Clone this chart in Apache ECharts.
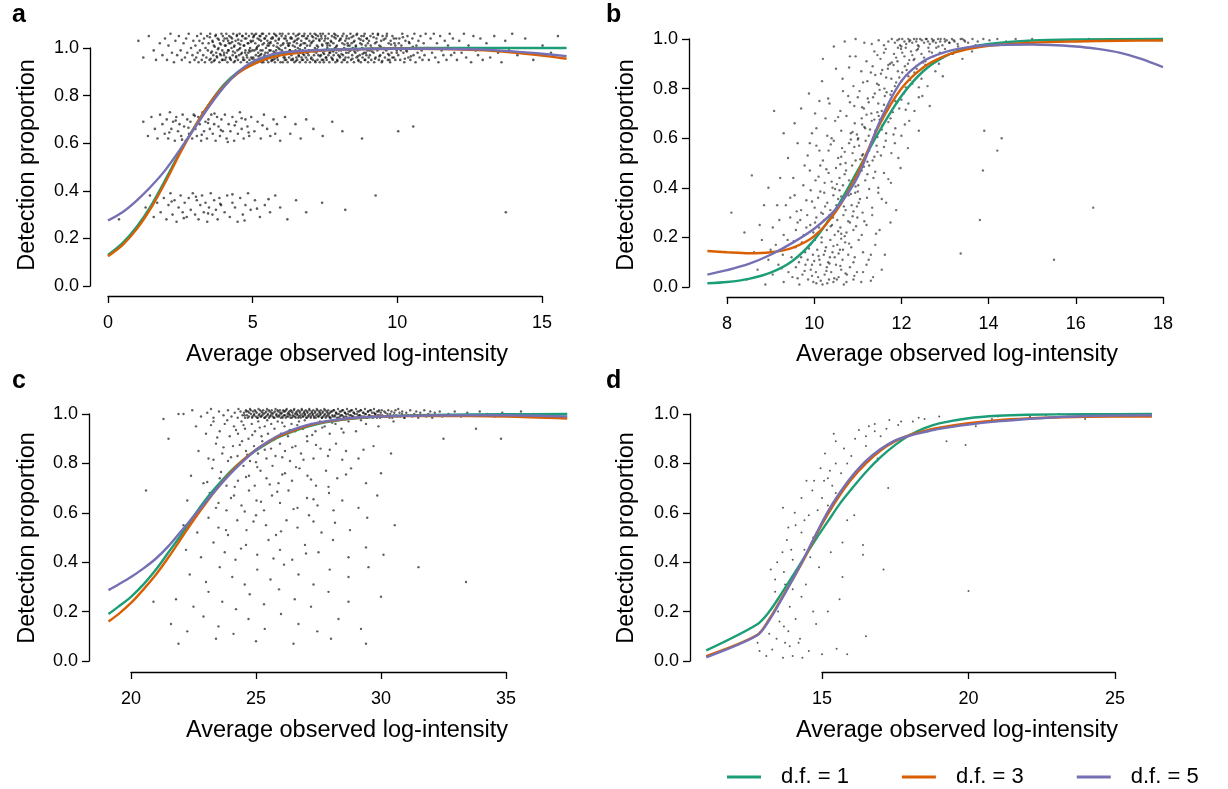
<!DOCTYPE html>
<html><head><meta charset="utf-8">
<script src="https://cdn.jsdelivr.net/npm/echarts/dist/echarts.min.js"></script>
<style>html,body{margin:0;padding:0;background:#fff}#c{width:1228px;height:789px}</style>
</head><body><div id="c"></div>
<script>
// ---------- data ----------
const seriesNames = ['d.f. = 1', 'd.f. = 3', 'd.f. = 5'];
const xTitle = 'Average observed log-intensity';
const yTitle = 'Detection proportion';
const panelLetters = ['a', 'b', 'c', 'd'];
const xTicksA = [0, 15, 5], xTicksB = [8, 18, 2], xTicksC = [20, 35, 5], xTicksD = [15, 25, 5]; // min, max, step
const yTicks = [0, 1, 0.2];

// panel a: points (x, y pairs, flat)
const pointsA = [
1.05,1.03,1.22,0.96,1.41,1.05,1.58,0.99,1.66,0.95,1.79,1.02,1.88,0.97,1.97,1.04,
2.04,0.95,2.09,1.01,2.16,1.06,2.21,0.98,2.28,0.94,2.33,1.03,2.39,0.97,2.45,1.05,2.51,0.99,2.55,0.95,2.61,1.02,2.66,0.96,2.70,1.04,2.74,0.98,2.79,1.06,2.83,0.94,2.87,1.00,2.92,0.97,2.95,1.03,2.99,0.95,
3.02,1.01,3.05,0.96,3.08,1.05,3.10,0.98,3.13,0.94,3.16,1.03,3.18,0.99,3.21,1.06,3.24,0.95,3.27,1.02,3.29,0.97,3.32,1.04,3.35,0.94,3.37,1.00,3.40,0.96,3.43,1.05,3.45,0.99,3.48,1.02,3.51,0.95,3.53,1.06,3.56,0.98,3.58,0.94,3.61,1.03,3.64,0.97,3.66,1.01,3.69,0.95,3.71,1.05,3.74,0.98,3.77,0.96,3.79,1.04,3.82,1.00,3.85,0.94,3.87,1.02,3.90,0.97,3.92,1.06,3.95,0.99,3.97,0.95,3.99,1.03,
4.01,0.97,4.03,1.04,4.05,0.95,4.07,1.01,4.09,1.06,4.11,0.98,4.13,0.94,4.15,1.03,4.17,0.99,4.19,1.05,4.21,0.96,4.23,1.02,4.25,0.95,4.27,1.00,4.29,1.04,4.31,0.97,4.33,1.06,4.35,0.94,4.37,1.01,4.39,0.98,4.41,1.03,4.43,0.96,4.45,1.05,4.47,0.99,4.49,0.95,4.51,1.02,4.53,0.97,4.55,1.06,4.57,1.00,4.59,0.94,4.61,1.03,4.63,0.98,4.65,1.05,4.67,0.96,4.69,1.01,4.71,0.95,4.73,1.04,4.75,0.99,4.77,1.06,4.79,0.97,4.81,0.94,4.83,1.02,4.85,0.98,4.87,1.05,4.89,0.95,4.91,1.00,4.93,1.03,4.95,0.96,4.97,1.06,4.99,0.99,
5.01,1.03,5.02,0.96,5.04,1.05,5.06,0.99,5.07,0.95,5.09,1.02,5.11,0.97,5.12,1.06,5.14,1.00,5.16,0.94,5.17,1.04,5.19,0.98,5.21,1.01,5.22,0.95,5.24,1.05,5.26,0.97,5.27,0.99,5.29,1.03,5.31,0.94,5.32,1.06,5.34,0.99,5.36,1.06,5.37,0.94,5.39,1.02,5.41,0.97,5.42,1.04,5.44,0.96,5.46,1.00,5.47,1.05,5.49,0.95,5.51,1.03,5.52,0.98,5.54,0.94,5.56,1.01,5.57,1.06,5.59,0.96,5.61,1.02,5.62,0.99,5.64,1.04,5.66,0.95,5.67,0.97,5.69,1.04,5.71,0.95,5.72,1.01,5.74,1.06,5.76,0.98,5.77,0.94,5.79,1.03,5.81,0.99,5.82,1.05,5.84,0.96,5.86,1.02,5.87,0.95,5.89,1.00,5.91,1.04,5.92,0.97,5.94,1.06,5.96,0.94,5.97,1.01,5.99,0.98,
6.01,0.99,6.03,1.06,6.04,0.94,6.06,1.02,6.08,0.97,6.09,1.04,6.11,0.96,6.13,1.00,6.14,1.05,6.16,0.95,6.18,1.03,6.19,0.98,6.21,0.94,6.23,1.01,6.24,1.06,6.26,0.96,6.28,1.02,6.29,0.99,6.31,1.04,6.33,0.95,6.34,0.97,6.36,1.04,6.38,0.95,6.39,1.01,6.41,1.06,6.43,0.98,6.44,0.94,6.46,1.03,6.48,0.99,6.49,1.05,6.51,0.96,6.53,1.02,6.54,0.95,6.56,1.00,6.58,1.04,6.59,0.97,6.61,1.06,6.63,0.94,6.64,1.01,6.66,0.98,6.68,1.03,6.69,0.96,6.71,1.05,6.73,0.99,6.74,0.95,6.76,1.02,6.78,0.97,6.79,1.06,6.81,1.00,6.83,0.94,6.84,1.04,6.86,0.98,6.88,1.01,6.89,0.95,6.91,1.05,6.93,0.97,6.94,0.99,6.96,1.03,6.98,0.94,6.99,1.06,
7.02,1.02,7.03,0.96,7.05,1.05,7.07,0.99,7.08,0.95,7.10,1.03,7.12,0.97,7.14,1.06,7.15,1.00,7.17,0.94,7.19,1.04,7.20,0.98,7.22,1.01,7.24,0.95,7.26,1.05,7.27,0.97,7.29,0.99,7.31,1.03,7.32,0.94,7.34,1.06,7.36,0.97,7.38,1.04,7.39,0.95,7.41,1.01,7.43,1.06,7.44,0.98,7.46,0.94,7.48,1.03,7.50,0.99,7.51,1.05,7.53,0.96,7.55,1.02,7.56,0.95,7.58,1.00,7.60,1.04,7.62,0.97,7.63,1.06,7.65,0.94,7.67,1.01,7.68,0.98,7.70,1.03,7.72,0.96,7.74,1.05,7.75,0.99,7.77,0.95,7.79,1.02,7.80,0.97,7.82,1.06,7.84,1.00,7.86,0.94,7.87,1.04,7.89,0.98,7.91,1.01,7.92,0.95,7.94,1.05,7.96,0.97,7.98,0.99,7.99,1.03,
8.02,0.96,8.04,1.04,8.06,0.99,8.08,0.94,8.10,1.02,8.12,0.97,8.14,1.06,8.16,1.00,8.18,0.95,8.20,1.03,8.23,0.98,8.25,1.05,8.27,0.94,8.29,1.01,8.31,0.96,8.33,1.04,8.35,0.99,8.38,1.06,8.40,0.95,8.42,1.02,8.44,0.97,8.46,1.00,8.48,1.05,8.50,0.94,8.52,1.03,8.55,0.98,8.57,1.01,8.59,0.96,8.61,1.06,8.63,0.99,8.65,0.95,8.67,1.04,8.70,0.97,8.72,1.02,8.74,0.94,8.76,1.05,8.78,1.00,8.80,0.96,8.82,1.03,8.85,0.98,8.87,1.06,8.89,0.95,8.91,1.01,8.93,0.97,8.95,1.04,8.97,0.99,8.99,0.94,
9.02,1.03,9.05,0.97,9.07,1.05,9.10,0.95,9.12,1.00,9.15,1.06,9.18,0.98,9.20,0.94,9.23,1.02,9.25,0.96,9.28,1.04,9.31,0.99,9.33,1.06,9.36,0.95,9.38,1.01,9.41,0.97,9.44,1.03,9.46,0.94,9.49,1.05,9.51,0.98,9.54,1.00,9.57,0.96,9.59,1.04,9.62,0.99,9.64,1.06,9.67,0.95,9.70,1.02,9.72,0.97,9.75,0.94,9.77,1.03,9.80,0.98,9.83,1.05,9.85,1.00,9.88,0.96,9.90,1.02,9.93,0.95,9.96,1.04,9.98,0.99,
10.03,0.97,10.07,1.04,10.10,0.95,10.14,1.01,10.17,1.06,10.21,0.98,10.24,0.94,10.28,1.03,10.31,0.99,10.35,1.05,10.38,0.96,10.42,1.02,10.45,0.95,10.49,1.00,10.52,1.04,10.56,0.97,10.59,1.06,10.63,0.94,10.66,1.01,10.70,0.98,10.73,1.03,10.77,0.96,10.80,1.05,10.84,0.99,10.87,0.95,10.91,1.02,10.94,0.97,10.98,1.06,
11.04,1.00,11.09,0.95,11.15,1.04,11.20,0.98,11.26,1.06,11.31,0.96,11.37,1.02,11.42,0.94,11.48,1.05,11.53,0.99,11.59,0.97,11.64,1.03,11.70,0.95,11.75,1.01,11.81,1.06,11.86,0.97,11.92,1.04,11.97,0.98,
12.06,0.95,12.14,1.03,12.22,0.98,12.30,1.06,12.38,0.96,12.46,1.01,12.55,0.94,12.63,1.05,12.71,0.99,12.79,0.97,12.87,1.04,12.95,0.95,
13.08,1.02,13.21,0.96,13.35,1.05,13.48,0.98,13.60,0.94,13.73,1.03,13.86,0.99,13.97,1.06,
14.15,0.97,14.42,1.04,14.70,0.95,15.02,1.01,15.31,0.98,15.55,1.05,
3.52,1.045,3.55,0.955,3.59,0.985,3.62,1.025,3.66,0.945,3.69,1.005,3.73,1.055,3.76,0.965,3.80,0.995,3.83,1.035,
3.87,0.975,3.90,1.015,3.94,0.95,3.97,1.05,4.01,0.98,4.04,1.01,4.08,0.96,4.11,1.04,4.15,0.99,4.18,1.02,
4.22,0.955,4.25,1.045,4.29,1.025,4.32,0.985,4.36,1.005,4.39,0.945,4.43,0.965,4.46,1.055,4.50,1.035,4.53,0.995,
4.57,1.015,4.60,0.975,4.64,1.05,4.67,0.95,4.71,1.01,4.74,0.98,4.78,1.04,4.81,0.96,4.85,1.02,4.88,0.99,
4.92,0.985,4.95,1.025,4.99,0.955,5.02,1.045,5.06,1.055,5.09,0.945,5.13,0.995,5.16,1.005,5.20,0.965,5.23,1.035,
5.27,1.05,5.30,0.975,5.34,1.015,5.37,0.95,5.41,1.04,5.44,0.98,5.48,0.96,5.51,1.01,5.55,1.02,5.58,0.99,
5.62,1.025,5.65,0.945,5.69,1.045,5.72,0.985,5.76,0.955,5.79,1.055,5.83,1.005,5.86,0.965,5.90,1.035,5.93,0.995,
5.97,0.975,6.00,1.05,6.04,1.015,6.07,0.96,6.11,0.95,6.14,1.04,6.18,0.98,6.21,1.02,6.25,1.01,6.28,0.99,
6.32,1.045,6.35,0.985,6.39,0.955,6.42,1.025,6.46,1.005,6.49,0.945,6.53,1.035,6.56,1.055,6.60,0.965,6.63,0.995,
6.67,1.015,6.70,0.95,6.74,0.975,6.77,1.05,6.81,1.02,6.84,0.96,6.88,1.04,6.91,0.98,6.95,0.99,6.98,1.01,
7.02,0.955,7.05,1.025,7.09,1.045,7.12,0.985,7.16,0.945,7.19,1.055,7.23,0.995,7.26,1.005,7.30,1.035,7.33,0.965,
7.37,1.05,7.40,1.015,7.44,0.95,7.47,0.975,7.51,1.04,7.54,0.96,7.58,1.01,7.61,1.02,7.65,0.98,7.68,0.99,
7.72,1.025,7.75,0.955,7.79,0.985,7.82,1.045,7.86,1.055,7.89,1.005,7.93,0.945,7.96,0.995,8.00,0.965,8.03,1.035,
8.07,0.975,8.10,1.05,8.14,0.95,8.17,1.015,8.21,0.96,8.24,1.04,8.28,1.02,8.31,0.98,8.35,1.01,8.38,0.99,
8.42,1.045,8.45,0.955,8.49,1.025,8.52,0.985,8.56,1.005,8.59,1.055,8.63,0.965,8.66,0.945,8.70,0.995,8.73,1.035,
8.77,1.015,8.80,0.975,8.84,1.05,8.87,0.95,8.91,0.98,8.94,1.04,8.98,1.02,9.01,0.96,9.05,0.99,9.08,1.01,
9.13,0.985,9.18,1.045,9.23,0.955,9.28,1.025,9.33,1.055,9.38,0.965,9.43,1.005,9.48,0.945,9.53,1.035,9.58,0.995,
9.63,1.05,9.68,0.975,9.73,0.95,9.78,1.015,9.83,0.96,9.88,1.04,9.93,1.01,9.98,0.98,10.05,1.02,10.12,0.99,
10.19,1.045,10.26,0.955,10.33,0.985,10.40,1.025,10.47,0.965,10.54,1.005,
1.22,0.69,1.38,0.63,1.50,0.71,1.62,0.66,1.71,0.62,1.80,0.72,1.88,0.68,1.96,0.64,
2.03,0.70,2.08,0.62,2.14,0.73,2.19,0.66,2.25,0.69,2.31,0.61,2.36,0.71,2.42,0.65,2.47,0.68,2.53,0.63,2.58,0.72,2.63,0.67,2.69,0.61,2.74,0.70,2.80,0.64,2.85,0.69,2.91,0.62,2.96,0.72,
3.02,0.66,3.07,0.63,3.12,0.71,3.17,0.68,3.22,0.61,3.27,0.73,3.32,0.65,3.37,0.69,3.42,0.62,3.47,0.70,3.52,0.66,3.57,0.72,3.62,0.64,3.67,0.68,3.72,0.61,3.77,0.71,3.82,0.67,3.87,0.63,3.92,0.70,3.97,0.65,
4.04,0.72,4.10,0.62,4.17,0.68,4.23,0.65,4.30,0.71,4.36,0.61,4.43,0.69,4.49,0.64,4.56,0.73,4.62,0.66,4.69,0.62,4.75,0.70,4.82,0.67,4.88,0.63,4.95,0.71,
5.06,0.65,5.17,0.69,5.28,0.62,5.39,0.72,5.50,0.66,5.61,0.63,5.72,0.70,5.84,0.68,5.95,0.61,
6.12,0.71,6.30,0.64,6.48,0.68,6.66,0.62,6.85,0.70,7.10,0.66,7.42,0.63,7.75,0.69,8.10,0.65,8.78,0.62,10.03,0.65,10.55,0.67,
2.12,0.645,2.34,0.695,2.56,0.615,2.78,0.665,3.00,0.715,3.24,0.635,3.46,0.685,3.68,0.725,3.90,0.655,4.14,0.605,4.38,0.675,4.62,0.705,4.86,0.645,5.34,0.675,5.78,0.64,
0.38,0.28,1.30,0.33,1.45,0.38,1.58,0.29,1.70,0.35,1.82,0.31,1.93,0.37,
2.02,0.28,2.09,0.34,2.16,0.39,2.23,0.30,2.30,0.36,2.37,0.27,2.44,0.33,2.51,0.38,2.58,0.31,2.65,0.35,2.72,0.29,2.79,0.37,2.86,0.32,2.93,0.39,
3.01,0.30,3.07,0.36,3.13,0.28,3.19,0.34,3.25,0.38,3.31,0.31,3.37,0.35,3.43,0.27,3.49,0.33,3.55,0.39,3.61,0.30,3.67,0.36,3.73,0.32,3.79,0.28,3.85,0.37,3.91,0.34,
4.03,0.31,4.12,0.38,4.21,0.29,4.30,0.35,4.39,0.33,4.48,0.27,4.57,0.37,4.66,0.30,4.75,0.34,4.84,0.39,4.93,0.32,
5.08,0.36,5.25,0.29,5.42,0.34,5.60,0.31,5.78,0.38,5.95,0.33,6.20,0.28,6.50,0.36,6.85,0.31,7.40,0.35,8.20,0.32,9.25,0.38,13.75,0.31,
2.20,0.355,2.62,0.285,3.04,0.375,3.46,0.305,3.88,0.345,4.30,0.385,4.72,0.275,5.15,0.325,5.55,0.365
];
const curveA1 = [[0,0.13],[0.5,0.18],[1,0.25],[1.5,0.34],[2,0.45],[2.5,0.565],[3,0.67],[3.5,0.765],[4,0.845],[4.5,0.9],[5,0.935],[5.5,0.958],[6,0.973],[7,0.988],[8,0.995],[10,0.999],[12,1.0],[15.85,1.0]];
const curveA3 = [[0,0.125],[0.5,0.172],[1,0.24],[1.5,0.33],[2,0.44],[2.5,0.56],[3,0.67],[3.5,0.765],[4,0.84],[4.5,0.895],[5,0.93],[5.5,0.955],[6,0.97],[7,0.985],[8,0.993],[10,0.997],[12,0.995],[13,0.99],[14,0.981],[15,0.968],[15.85,0.955]];
const curveA5 = [[0,0.275],[0.5,0.31],[1,0.36],[1.5,0.42],[2,0.49],[2.5,0.575],[3,0.665],[3.5,0.755],[4,0.835],[4.5,0.9],[5,0.942],[5.5,0.967],[6,0.981],[7,0.99],[8,0.994],[10,0.997],[12,0.996],[13,0.993],[14,0.986],[15,0.976],[15.85,0.966]];

// panel b
const pointsB = [
8.45,0.03,8.70,0.07,8.88,0.01,9.05,0.05,9.18,0.09,9.30,0.02,9.41,0.06,9.50,0.04,9.58,0.08,9.66,0.01,9.73,0.05,9.80,0.09,9.86,0.03,9.92,0.07,9.98,0.02,10.04,0.06,10.09,0.04,10.14,0.09,10.19,0.01,10.24,0.05,10.29,0.08,10.34,0.03,10.39,0.06,10.44,0.02,10.50,0.09,10.56,0.04,10.62,0.07,10.68,0.01,10.75,0.05,10.82,0.08,10.90,0.03,10.98,0.06,11.08,0.02,11.20,0.09,11.35,0.04,11.55,0.07,9.25,0.075,10.05,0.015,10.35,0.095,9.62,0.035,
8.62,0.14,8.95,0.11,9.12,0.17,9.28,0.13,9.39,0.19,9.48,0.12,9.57,0.16,9.65,0.10,9.72,0.18,9.79,0.14,9.85,0.11,9.91,0.17,9.97,0.13,10.02,0.19,10.07,0.15,10.12,0.11,10.17,0.18,10.22,0.13,10.27,0.16,10.32,0.10,10.37,0.19,10.42,0.14,10.47,0.12,10.53,0.17,10.59,0.15,10.65,0.11,10.71,0.18,10.78,0.13,10.85,0.16,10.93,0.12,11.02,0.19,11.12,0.14,11.25,0.11,11.40,0.17,11.62,0.13,9.53,0.185,10.10,0.125,10.62,0.195,8.80,0.19,9.88,0.155,
9.05,0.24,9.30,0.21,9.45,0.28,9.58,0.23,9.68,0.27,9.76,0.21,9.84,0.29,9.91,0.25,9.98,0.22,10.05,0.28,10.11,0.24,10.17,0.20,10.23,0.27,10.29,0.23,10.35,0.29,10.41,0.25,10.47,0.21,10.53,0.27,10.60,0.24,10.67,0.29,10.74,0.22,10.82,0.26,10.90,0.23,10.99,0.28,11.09,0.21,11.20,0.25,11.33,0.29,11.50,0.23,11.75,0.26,9.20,0.27,10.20,0.295,10.70,0.205,
9.35,0.33,9.55,0.37,9.70,0.31,9.82,0.35,9.92,0.39,10.01,0.32,10.09,0.36,10.16,0.30,10.23,0.38,10.30,0.34,10.37,0.31,10.44,0.37,10.51,0.33,10.58,0.39,10.65,0.35,10.72,0.31,10.79,0.37,10.86,0.33,10.94,0.38,11.02,0.34,11.11,0.30,11.21,0.36,11.33,0.32,11.47,0.38,11.65,0.34,11.88,0.31,10.48,0.395,10.90,0.305,9.60,0.305,11.00,0.385,
9.52,0.44,9.75,0.41,9.90,0.47,10.03,0.43,10.14,0.49,10.24,0.42,10.33,0.46,10.42,0.40,10.50,0.48,10.58,0.44,10.66,0.41,10.73,0.47,10.80,0.43,10.87,0.49,10.94,0.45,11.01,0.41,11.09,0.47,11.17,0.43,11.26,0.49,11.36,0.44,11.47,0.40,11.60,0.46,11.76,0.42,11.98,0.48,10.60,0.495,10.95,0.405,8.57,0.45,13.87,0.47,
9.85,0.53,10.05,0.57,10.20,0.51,10.33,0.55,10.45,0.59,10.55,0.52,10.64,0.56,10.72,0.50,10.80,0.58,10.88,0.54,10.95,0.51,11.03,0.57,11.10,0.53,11.18,0.59,11.26,0.55,11.34,0.51,11.43,0.57,11.53,0.53,11.64,0.59,11.77,0.54,11.93,0.52,12.15,0.56,11.00,0.595,11.22,0.505,14.20,0.55,10.70,0.545,
10.05,0.64,10.30,0.61,10.48,0.67,10.62,0.63,10.74,0.69,10.84,0.62,10.93,0.66,11.01,0.60,11.09,0.68,11.17,0.64,11.25,0.61,11.32,0.67,11.40,0.63,11.48,0.69,11.56,0.65,11.65,0.62,11.75,0.68,11.86,0.64,12.00,0.61,12.18,0.67,12.40,0.63,11.20,0.695,11.45,0.605,13.90,0.63,14.30,0.60,11.10,0.655,
10.35,0.74,10.60,0.71,10.78,0.77,10.92,0.73,11.04,0.79,11.14,0.72,11.23,0.76,11.31,0.70,11.39,0.78,11.47,0.74,11.55,0.71,11.62,0.77,11.70,0.73,11.78,0.79,11.86,0.75,11.95,0.72,12.05,0.78,12.16,0.74,12.30,0.71,12.48,0.77,12.65,0.73,11.50,0.795,11.80,0.705,9.08,0.71,11.25,0.745,12.00,0.755,
10.65,0.84,10.90,0.81,11.08,0.87,11.22,0.83,11.34,0.89,11.44,0.82,11.53,0.86,11.61,0.80,11.69,0.88,11.77,0.84,11.85,0.81,11.92,0.87,12.00,0.83,12.08,0.89,12.16,0.85,12.25,0.82,12.35,0.88,12.46,0.84,12.60,0.81,12.78,0.87,12.95,0.85,11.70,0.895,12.10,0.805,11.40,0.855,12.30,0.865,11.95,0.845,10.80,0.885,12.55,0.895,
10.95,0.93,11.20,0.91,11.38,0.95,11.52,0.92,11.64,0.96,11.74,0.90,11.83,0.94,11.91,0.91,11.99,0.96,12.07,0.93,12.15,0.90,12.22,0.95,12.30,0.92,12.38,0.96,12.46,0.94,12.55,0.91,12.64,0.95,12.74,0.93,12.86,0.90,13.00,0.96,13.18,0.94,13.40,0.92,13.62,0.95,12.10,0.965,12.50,0.905,11.88,0.925,12.80,0.965,12.25,0.935,11.45,0.935,12.95,0.925,
11.32,0.98,11.48,0.995,11.60,0.975,11.70,0.99,11.78,1.0,11.85,0.985,11.91,0.995,11.97,0.975,12.02,1.0,12.07,0.99,12.11,0.98,12.16,1.0,12.20,0.995,12.25,0.985,12.29,1.0,12.34,0.99,12.38,0.975,12.43,1.0,12.47,0.995,12.52,0.985,12.56,1.0,12.61,0.99,12.65,0.98,12.70,1.0,12.74,0.995,12.79,0.985,12.84,1.0,12.89,0.99,12.94,0.975,12.99,1.0,13.04,0.995,13.10,0.985,13.16,1.0,13.22,0.99,13.29,0.98,13.36,1.0,13.44,0.995,13.53,0.985,13.63,1.0,13.75,0.99,13.88,1.0,14.02,0.995,14.20,1.0,14.40,0.99,14.62,1.0,12.00,0.97,12.40,0.97,12.85,0.97,13.30,0.97,11.95,1.0,12.58,1.0,13.00,0.99,12.18,0.99,12.72,0.99,13.20,0.995,15.00,1.0,15.60,0.995,16.30,1.0,
8.10,0.30,13.36,0.135,15.50,0.11,16.40,0.32,13.80,0.27,8.85,0.33,8.40,0.22,8.95,0.40,
9.95,0.045,10.15,0.025,10.28,0.065,10.46,0.035,10.60,0.085,10.72,0.055,9.78,0.065,10.00,0.105,10.25,0.145,10.44,0.165,10.56,0.135,10.80,0.175,10.08,0.215,10.38,0.245,10.55,0.225,10.78,0.265,10.96,0.245,10.25,0.325,10.55,0.355,10.68,0.325,10.84,0.375,11.05,0.355,10.40,0.425,10.70,0.455,10.84,0.415,11.05,0.475,11.22,0.455,10.62,0.525,10.92,0.565,11.12,0.535,11.30,0.575,11.45,0.545,10.88,0.625,11.15,0.645,11.38,0.675,11.55,0.635,11.70,0.665,11.10,0.725,11.35,0.765,11.60,0.735,11.75,0.775,11.90,0.745,11.48,0.815,11.65,0.845,11.88,0.825,12.02,0.865,12.20,0.835,11.78,0.905,12.02,0.945,12.18,0.915,12.35,0.955,12.52,0.925,12.70,0.945,
9.40,0.52,9.62,0.58,9.78,0.49,9.95,0.62,10.12,0.55,10.26,0.68,10.40,0.60,9.55,0.66,9.70,0.72,9.88,0.78,10.02,0.70,10.18,0.83,10.32,0.76,10.50,0.88,10.66,0.79,10.82,0.93,10.20,0.92,10.45,0.97,10.70,0.99,10.95,1.0,11.15,0.985,9.30,0.62,9.45,0.36,9.62,0.26,9.15,0.33,9.00,0.15,8.75,0.25,9.22,0.44,9.90,0.58,10.12,0.75,
10.30,0.015,10.52,0.03,10.74,0.02,10.92,0.045,11.12,0.06,11.30,0.025,9.70,0.12,9.95,0.09,10.36,0.12,10.66,0.15,10.90,0.10,11.30,0.13,9.82,0.24,10.02,0.26,10.43,0.28,10.62,0.215,10.88,0.285,11.15,0.265,11.42,0.215,9.95,0.345,10.14,0.385,10.62,0.365,10.98,0.325,11.26,0.395,11.55,0.355,10.10,0.445,10.28,0.475,10.52,0.415,11.14,0.485,11.40,0.465,11.70,0.435,10.38,0.575,10.84,0.595,11.06,0.515,11.38,0.525,11.60,0.565,11.85,0.58,10.55,0.685,10.98,0.615,11.28,0.635,11.50,0.675,11.82,0.615,12.08,0.655,10.82,0.745,11.00,0.765,11.45,0.705,11.66,0.785,12.10,0.715,12.40,0.765,11.12,0.825,11.30,0.865,11.56,0.875,11.82,0.895,12.12,0.875,12.40,0.805,11.60,0.945,11.92,0.965,12.28,0.915,12.62,0.965,12.88,0.945,13.10,0.985,13.46,0.99,13.70,0.975,12.35,1.0,12.90,1.0,13.40,1.0
];
const curveB1 = [[7.55,0.015],[8,0.02],[8.5,0.033],[9,0.058],[9.5,0.105],[10,0.19],[10.5,0.315],[11,0.47],[11.5,0.63],[12,0.77],[12.5,0.87],[13,0.93],[13.5,0.963],[14,0.98],[15,0.994],[16,0.998],[18,1.0]];
const curveB3 = [[7.55,0.145],[8,0.14],[8.5,0.136],[9,0.14],[9.5,0.158],[10,0.205],[10.5,0.305],[11,0.46],[11.5,0.655],[12,0.8],[12.5,0.885],[13,0.932],[13.5,0.958],[14,0.973],[15,0.985],[16,0.99],[17,0.993],[18,0.994]];
const curveB5 = [[7.55,0.05],[8,0.068],[8.5,0.093],[9,0.13],[9.5,0.178],[10,0.235],[10.5,0.315],[11,0.445],[11.5,0.665],[12,0.83],[12.5,0.91],[13,0.947],[13.5,0.966],[14,0.975],[15,0.978],[16,0.97],[16.5,0.96],[17,0.945],[17.5,0.92],[18,0.887]];

// panel c
const pointsC = [
22.10,1.00,22.45,1.015,22.80,0.99,23.05,1.005,23.30,0.985,23.52,1.01,23.70,0.995,23.88,1.015,24.02,0.99,24.15,1.005,24.27,0.985,24.38,1.01,24.46,0.995,23.20,1.02,24.30,1.02,
24.52,1.005,24.56,0.985,24.60,1.015,24.64,0.995,24.68,1.01,24.72,0.99,24.76,1.02,24.80,1.0,24.84,0.985,24.88,1.01,24.91,0.995,24.95,1.015,24.99,0.99,25.03,1.005,25.07,0.985,25.10,1.02,25.14,1.0,25.18,0.99,25.22,1.01,25.25,0.995,25.29,1.015,25.33,0.985,25.37,1.005,25.40,0.99,25.44,1.02,25.48,1.0,25.52,0.985,25.55,1.01,25.59,0.995,25.63,1.015,25.67,0.99,25.70,1.005,25.74,0.985,25.78,1.02,25.82,1.0,25.85,0.99,25.89,1.01,25.93,0.995,25.96,1.015,25.99,0.985,
26.03,1.005,26.06,0.99,26.09,1.015,26.13,0.995,26.16,1.01,26.19,0.985,26.23,1.02,26.26,1.0,26.29,0.99,26.33,1.01,26.36,0.995,26.39,1.015,26.43,0.985,26.46,1.005,26.49,0.99,26.53,1.02,26.56,1.0,26.59,0.985,26.63,1.01,26.66,0.995,26.69,1.015,26.73,0.99,26.76,1.005,26.79,0.985,26.83,1.02,26.86,1.0,26.89,0.99,26.93,1.01,26.96,0.995,26.99,1.015,27.03,0.985,27.06,1.005,27.09,0.99,27.13,1.02,27.16,1.0,27.19,0.985,27.23,1.01,27.26,0.995,27.29,1.015,27.33,0.99,27.36,1.005,27.39,0.985,27.43,1.02,27.46,1.0,27.49,0.99,27.53,1.01,27.56,0.995,27.59,1.015,27.63,0.985,27.66,1.005,27.69,0.99,27.73,1.02,27.76,1.0,27.79,0.985,27.83,1.01,27.86,0.995,27.89,1.015,27.93,0.99,27.96,1.005,27.99,0.985,
28.04,1.01,28.08,0.99,28.12,1.015,28.16,0.995,28.20,1.005,28.24,0.985,28.28,1.02,28.32,1.0,28.36,0.99,28.40,1.01,28.44,0.995,28.48,1.015,28.52,0.985,28.56,1.005,28.60,0.99,28.64,1.02,28.68,1.0,28.72,0.985,28.76,1.01,28.80,0.995,28.84,1.015,28.88,0.99,28.92,1.005,28.96,0.985,29.00,1.02,29.04,1.0,29.08,0.99,29.12,1.01,29.16,0.995,29.20,1.015,29.24,0.985,29.28,1.005,29.32,0.99,29.36,1.02,29.40,1.0,29.44,0.985,29.48,1.01,29.52,0.995,29.56,1.015,29.60,0.99,29.64,1.005,29.68,0.985,29.72,1.02,29.76,1.0,29.80,0.99,29.84,1.01,29.88,0.995,29.92,1.015,29.96,0.985,29.99,1.005,
30.05,0.995,30.13,1.01,30.21,0.99,30.29,1.015,30.37,1.0,30.45,0.985,30.53,1.005,30.61,0.995,30.69,1.02,30.77,0.99,30.85,1.01,30.93,0.985,31.01,1.005,31.09,0.995,31.17,1.015,31.25,0.99,31.33,1.0,31.41,1.01,31.49,0.985,31.57,1.005,31.65,0.995,31.73,1.015,31.81,0.99,31.89,1.0,31.97,1.01,32.05,0.985,32.15,1.005,32.25,0.995,32.35,1.01,32.45,0.99,
32.70,1.0,32.95,1.01,33.20,0.99,33.45,1.005,33.70,0.995,33.95,1.01,34.25,1.0,34.55,0.99,34.85,1.005,35.20,0.995,35.60,1.01,36.10,1.0,
24.54,0.995,24.61,1.01,24.67,0.985,24.73,1.005,24.79,1.015,24.86,0.99,24.93,1.0,24.99,1.01,25.05,0.985,25.11,0.995,
25.16,1.015,25.21,0.99,25.26,1.005,25.31,1.0,25.36,0.985,25.41,1.01,25.46,0.995,25.51,1.015,25.56,0.99,25.61,1.005,
25.66,1.0,25.71,0.985,25.76,1.01,25.81,0.995,25.86,1.015,25.91,0.99,25.96,1.005,26.01,1.0,26.06,0.985,26.11,1.01,
26.15,0.995,26.20,1.015,26.24,0.99,26.29,1.005,26.33,1.0,26.38,0.985,26.42,1.01,26.47,0.995,26.51,1.015,26.56,0.99,
26.60,1.005,26.65,1.0,26.69,0.985,26.74,1.01,26.78,0.995,26.83,1.015,26.87,0.99,26.92,1.005,26.96,1.0,27.01,0.985,
27.05,1.01,27.10,0.995,27.14,1.015,27.19,0.99,27.23,1.005,27.28,1.0,27.32,0.985,27.37,1.01,27.41,0.995,27.46,1.015,
27.50,0.99,27.55,1.005,27.59,1.0,27.64,0.985,27.68,1.01,27.73,0.995,27.77,1.015,27.82,0.99,27.86,1.005,27.91,1.0,
27.95,0.985,28.00,1.01,28.05,0.995,28.10,1.015,28.15,0.99,28.20,1.005,28.25,1.0,28.30,0.985,28.35,1.01,28.40,0.995,
28.45,1.015,28.50,0.99,28.55,1.005,28.60,1.0,28.65,0.985,28.70,1.01,28.75,0.995,28.80,1.015,28.85,0.99,28.90,1.005,
28.95,1.0,29.00,0.985,29.06,1.01,29.12,0.995,29.18,1.015,29.24,0.99,29.30,1.005,29.36,1.0,29.42,0.985,29.48,1.01,
29.54,0.995,29.60,1.015,29.66,0.99,29.72,1.005,29.78,1.0,29.84,0.985,29.90,1.01,29.96,0.995,30.03,1.015,30.10,0.99,
30.18,1.005,30.26,1.0,30.34,0.985,30.42,1.01,30.50,0.995,30.58,1.015,30.66,0.99,30.74,1.005,30.84,1.0,30.94,0.985,
22.60,0.95,23.00,0.92,23.30,0.97,23.55,0.93,23.75,0.96,23.95,0.91,24.12,0.95,24.28,0.92,24.42,0.97,24.56,0.94,24.70,0.90,24.83,0.96,24.96,0.93,25.09,0.97,25.22,0.91,25.35,0.95,25.48,0.92,25.61,0.96,25.74,0.94,25.87,0.97,26.00,0.92,26.14,0.95,26.28,0.91,26.42,0.96,26.57,0.93,26.72,0.97,26.88,0.94,27.04,0.91,27.20,0.96,27.38,0.93,27.56,0.97,27.75,0.95,27.95,0.92,28.18,0.96,28.42,0.94,28.70,0.97,29.00,0.93,29.40,0.96,29.90,0.95,30.50,0.97,
22.70,0.85,23.10,0.82,23.40,0.88,23.65,0.84,23.88,0.81,24.08,0.87,24.26,0.83,24.44,0.89,24.60,0.85,24.76,0.81,24.92,0.87,25.08,0.84,25.25,0.89,25.42,0.82,25.60,0.86,25.78,0.83,25.96,0.88,26.16,0.85,26.36,0.81,26.58,0.87,26.80,0.84,27.05,0.89,27.30,0.82,27.58,0.86,27.88,0.83,28.20,0.88,28.60,0.85,29.10,0.82,29.70,0.87,30.40,0.84,
22.40,0.75,22.90,0.72,23.25,0.78,23.55,0.74,23.82,0.71,24.05,0.77,24.28,0.73,24.50,0.79,24.72,0.75,24.95,0.71,25.18,0.77,25.42,0.74,25.66,0.79,25.90,0.72,26.16,0.76,26.44,0.73,26.74,0.78,27.06,0.75,27.40,0.71,27.80,0.77,28.25,0.74,28.80,0.78,29.40,0.72,30.00,0.76,
22.25,0.65,22.75,0.62,23.15,0.68,23.50,0.64,23.82,0.61,24.12,0.67,24.42,0.63,24.72,0.69,25.02,0.65,25.32,0.61,25.64,0.67,25.96,0.64,26.30,0.69,26.66,0.62,27.04,0.66,27.46,0.63,27.92,0.68,28.45,0.65,29.10,0.62,29.85,0.67,
22.10,0.55,22.65,0.52,23.10,0.58,23.50,0.54,23.88,0.51,24.25,0.57,24.62,0.53,25.00,0.59,25.40,0.55,25.80,0.51,26.22,0.57,26.66,0.54,27.12,0.59,27.62,0.52,28.16,0.56,28.76,0.53,29.45,0.58,30.55,0.55,
22.20,0.45,22.80,0.42,23.30,0.48,23.75,0.44,24.18,0.41,24.60,0.47,25.05,0.43,25.50,0.49,25.96,0.45,26.45,0.41,26.96,0.47,27.50,0.44,28.08,0.49,28.70,0.42,29.40,0.46,30.10,0.43,
22.35,0.35,23.00,0.32,23.55,0.38,24.05,0.34,24.55,0.31,25.05,0.37,25.58,0.33,26.12,0.39,26.70,0.35,27.30,0.31,27.95,0.37,28.70,0.34,29.50,0.38,31.50,0.38,
21.80,0.25,22.50,0.22,23.10,0.28,23.65,0.24,24.20,0.21,24.75,0.27,25.32,0.23,25.92,0.29,26.55,0.25,27.20,0.22,27.90,0.28,28.70,0.24,30.00,0.26,
21.60,0.15,22.25,0.12,22.90,0.18,23.50,0.14,24.10,0.11,24.70,0.17,25.35,0.13,26.00,0.19,26.70,0.15,27.45,0.12,28.30,0.17,29.20,0.13,
21.90,0.07,23.40,0.09,25.00,0.08,26.50,0.07,28.00,0.09,29.40,0.07,
20.60,0.69,21.30,0.98,21.90,1.0,21.50,0.90,33.80,0.94,32.50,0.90,33.40,0.32,34.80,0.90,20.90,0.24,
23.20,0.955,23.45,0.905,23.85,0.975,24.20,0.935,24.50,0.955,24.85,0.915,25.15,0.945,25.45,0.975,25.80,0.905,26.05,0.965,26.35,0.935,26.65,0.955,26.95,0.975,27.25,0.915,27.65,0.945,28.05,0.965,28.50,0.925,29.20,0.975,
23.30,0.815,23.70,0.865,24.00,0.825,24.35,0.875,24.65,0.835,25.00,0.805,25.35,0.855,25.70,0.895,26.05,0.825,26.45,0.865,26.90,0.815,27.40,0.875,27.95,0.855,28.45,0.815,29.30,0.855,
23.05,0.725,23.60,0.765,24.15,0.705,24.60,0.745,25.05,0.785,25.55,0.715,26.05,0.755,26.60,0.785,27.20,0.735,27.90,0.705,28.60,0.755,
23.40,0.62,24.00,0.66,24.55,0.605,25.20,0.645,25.85,0.685,26.50,0.615,27.30,0.655,28.10,0.61,23.80,0.53,24.90,0.565,26.00,0.525,27.30,0.565,24.40,0.455,25.70,0.415,27.00,0.435
];
const curveC1 = [[19.1,0.19],[19.5,0.22],[20,0.26],[20.5,0.31],[21,0.37],[21.5,0.44],[22,0.51],[22.5,0.585],[23,0.655],[23.5,0.715],[24,0.77],[24.5,0.815],[25,0.852],[25.5,0.884],[26,0.91],[27,0.947],[28,0.97],[29,0.983],[30,0.99],[32,0.996],[35,0.999],[37.45,1.0]];
const curveC3 = [[19.1,0.16],[19.5,0.19],[20,0.235],[20.5,0.29],[21,0.35],[21.5,0.42],[22,0.495],[22.5,0.57],[23,0.64],[23.5,0.705],[24,0.765],[24.5,0.815],[25,0.855],[25.5,0.887],[26,0.913],[27,0.95],[28,0.972],[29,0.984],[30,0.99],[32,0.993],[35,0.99],[37.45,0.982]];
const curveC5 = [[19.1,0.287],[19.5,0.31],[20,0.34],[20.5,0.375],[21,0.415],[21.5,0.465],[22,0.525],[22.5,0.585],[23,0.645],[23.5,0.705],[24,0.76],[24.5,0.81],[25,0.855],[25.5,0.89],[26,0.918],[27,0.954],[28,0.974],[29,0.985],[30,0.99],[32,0.994],[35,0.995],[37.45,0.99]];

// panel d
const pointsD = [
12.80,0.074,12.87,0.04,13.30,0.047,13.67,0.013,14.00,0.02,14.33,0.013,15.00,0.027,15.86,0.027,13.74,0.074,14.20,0.074,
13.20,0.11,13.70,0.14,14.10,0.17,13.50,0.20,13.90,0.22,14.30,0.26,13.40,0.28,14.70,0.20,15.20,0.20,13.74,0.31,
13.40,0.33,13.70,0.36,13.47,0.40,14.00,0.41,14.40,0.45,13.80,0.49,14.90,0.38,15.70,0.34,16.40,0.43,15.70,0.48,14.70,0.50,
13.67,0.62,14.07,0.60,14.40,0.57,14.30,0.66,14.67,0.69,14.87,0.53,15.20,0.63,15.47,0.68,15.86,0.57,16.10,0.59,15.07,0.73,
14.47,0.73,14.73,0.73,15.20,0.74,15.47,0.80,15.27,0.77,15.86,0.80,15.47,0.89,16.13,0.90,16.50,0.87,16.90,0.82,17.26,0.70,17.10,0.37,
16.26,0.935,16.80,0.96,17.30,0.976,17.70,0.97,18.10,0.97,18.50,0.98,19.25,0.89,19.90,0.875,20.25,0.95,20.80,0.98,21.45,0.996,22.10,0.99,22.65,0.996,23.40,0.99,23.98,0.98,16.80,0.93,16.50,0.91,17.20,0.94,
20.00,0.283,16.50,0.10,16.40,0.47,
13.10,0.02,13.45,0.09,13.90,0.06,14.55,0.04,13.55,0.16,13.85,0.12,14.25,0.09,14.00,0.29,13.60,0.25,14.45,0.31,14.15,0.36,13.95,0.45,14.30,0.52,14.60,0.42,14.10,0.55,14.85,0.61,13.85,0.54,14.55,0.59,15.00,0.66,15.35,0.71,14.95,0.78,15.65,0.76,15.10,0.84,15.75,0.86,16.00,0.83,16.30,0.78,15.40,0.92,16.60,0.95,17.00,0.91,17.60,0.955,18.30,0.985,19.00,0.99,19.60,0.975,21.00,0.99,22.40,0.985,23.10,1.0,24.00,0.995,15.30,0.44,15.60,0.25,14.80,0.15,15.50,0.05,13.25,0.37,13.65,0.44
];
const curveD1 = [[11.05,0.043],[12.78,0.148],[13.2,0.2],[13.6,0.27],[14,0.345],[14.4,0.42],[14.8,0.495],[15.2,0.565],[15.6,0.635],[16,0.695],[16.5,0.765],[17,0.825],[17.5,0.875],[18,0.915],[18.5,0.943],[19,0.962],[20,0.983],[21,0.993],[22,0.997],[24,0.999],[26.26,1.0]];
const curveD3 = [[11.05,0.02],[12.78,0.105],[13.2,0.17],[13.6,0.25],[14,0.33],[14.4,0.415],[14.8,0.51],[15.2,0.595],[15.6,0.67],[16,0.735],[16.5,0.8],[17,0.852],[17.5,0.89],[18,0.915],[18.5,0.932],[19,0.945],[20,0.963],[21,0.975],[22,0.982],[23,0.986],[24,0.989],[26.26,0.99]];
const curveD5 = [[11.05,0.015],[12.78,0.103],[13.2,0.165],[13.6,0.245],[14,0.33],[14.4,0.42],[14.8,0.515],[15.2,0.605],[15.6,0.68],[16,0.745],[16.5,0.81],[17,0.858],[17.5,0.893],[18,0.913],[18.5,0.927],[19,0.94],[20,0.957],[21,0.97],[22,0.98],[23,0.987],[24,0.992],[26.26,0.995]];

// ---------- layout / style ----------
const FONT = '"Liberation Sans", Arial, Helvetica, sans-serif';
const COLORS = ['#1B9E77', '#D95F02', '#7570B3'];
const panels = [
  {pts: pointsA, curves: [curveA1, curveA3, curveA5], xt: xTicksA, dx: [-0.8, 16.6], box: {left: 108, top: 48, width: 434, height: 238}, xOff: 10, yOff: 18,
   letter: [12, 28], xtPos: [347, 355], ytPos: [28, 165], dot: 2.6, alpha: 0.8},
  {pts: pointsB, curves: [curveB1, curveB3, curveB5], xt: xTicksB, dx: [7.2, 18.4], box: {left: 727, top: 39, width: 436, height: 248}, xOff: 10, yOff: 38,
   letter: [606, 28], xtPos: [957, 355], ytPos: [627, 165], dot: 2.4, alpha: 0.7},
  {pts: pointsC, curves: [curveC1, curveC3, curveC5], xt: xTicksC, dx: [18.6, 38.2], box: {left: 131, top: 414, width: 375, height: 247}, xOff: 11, yOff: 42,
   letter: [12, 394], xtPos: [347, 731], ytPos: [28, 538], dot: 2.4, alpha: 0.78},
  {pts: pointsD, curves: [curveD1, curveD3, curveD5], xt: xTicksD, dx: [10.6, 26.8], box: {left: 822, top: 414, width: 293, height: 247}, xOff: 11, yOff: 132,
   letter: [606, 394], xtPos: [957, 731], ytPos: [627, 538], dot: 2, alpha: 0.8}
];
const DY = [-0.08, 1.12];

function pairs(a) { const r = []; for (let i = 0; i + 1 < a.length; i += 2) r.push([a[i], a[i + 1]]); return r; }

const axisLineStyle = {color: '#000', width: 1.3};
const grids = [], xAxes = [], yAxes = [], series = [], graphics = [];
panels.forEach((p, i) => {
  const b = p.box;
  // grid holding the visible (R-style, detached) axes
  grids.push({left: b.left, top: b.top, width: b.width, height: b.height});
  // grid holding the marks, wider than the axes' span
  const pxX = b.width / (p.xt[1] - p.xt[0]);
  const pxY = b.height / (yTicks[1] - yTicks[0]);
  grids.push({
    left: b.left + (p.dx[0] - p.xt[0]) * pxX, width: (p.dx[1] - p.dx[0]) * pxX,
    top: b.top + (yTicks[1] - DY[1]) * pxY, height: (DY[1] - DY[0]) * pxY
  });
  xAxes.push({
    gridIndex: 2 * i, type: 'value', min: p.xt[0], max: p.xt[1], interval: p.xt[2], offset: p.xOff,
    axisLine: {show: true, onZero: false, lineStyle: axisLineStyle},
    axisTick: {show: true, length: 7, lineStyle: axisLineStyle},
    axisLabel: {fontSize: 18, color: '#000', fontFamily: FONT, margin: 18},
    splitLine: {show: false}
  });
  yAxes.push({
    gridIndex: 2 * i, type: 'value', min: yTicks[0], max: yTicks[1], interval: yTicks[2], offset: p.yOff,
    axisLine: {show: true, onZero: false, lineStyle: axisLineStyle},
    axisTick: {show: true, length: 7, lineStyle: axisLineStyle},
    axisLabel: {fontSize: 18, color: '#000', fontFamily: FONT, margin: 11, formatter: v => v.toFixed(1)},
    splitLine: {show: false}
  });
  xAxes.push({gridIndex: 2 * i + 1, type: 'value', min: p.dx[0], max: p.dx[1], show: false, splitLine: {show: false}});
  yAxes.push({gridIndex: 2 * i + 1, type: 'value', min: DY[0], max: DY[1], show: false, splitLine: {show: false}});
  series.push({
    type: 'scatter', xAxisIndex: 2 * i + 1, yAxisIndex: 2 * i + 1, data: pairs(p.pts), symbolSize: p.dot,
    itemStyle: {color: 'rgba(0,0,0,' + p.alpha + ')'}, silent: true, z: 1
  });
  p.curves.forEach((c, k) => {
    series.push({
      type: 'line', name: seriesNames[k], xAxisIndex: 2 * i + 1, yAxisIndex: 2 * i + 1, data: c, symbol: 'none',
      smooth: 0.3, silent: true, z: 3 + k,
      lineStyle: {color: COLORS[k], width: 2.4}, itemStyle: {color: COLORS[k]}
    });
  });
  graphics.push({type: 'text', x: p.letter[0], y: p.letter[1], style: {text: panelLetters[i], font: 'bold 25px ' + FONT, fill: '#000', textAlign: 'left', textVerticalAlign: 'bottom'}});
  graphics.push({type: 'text', x: p.xtPos[0], y: p.xtPos[1], style: {text: xTitle, font: '23.5px ' + FONT, fill: '#000', textAlign: 'center', textVerticalAlign: 'middle'}});
  graphics.push({type: 'text', x: p.ytPos[0], y: p.ytPos[1], rotation: Math.PI / 2, style: {text: yTitle, font: '23.5px ' + FONT, fill: '#000', textAlign: 'center', textVerticalAlign: 'middle'}});
});

const chart = echarts.init(document.getElementById('c'), null, {renderer: 'canvas'});
chart.setOption({
  animation: false,
  backgroundColor: '#fff',
  grid: grids, xAxis: xAxes, yAxis: yAxes, series: series,
  legend: {
    data: seriesNames, left: 727, top: 766, padding: 0, icon: 'rect', itemWidth: 34, itemHeight: 3, itemGap: 53,
    selectedMode: false,
    textStyle: {fontSize: 22, fontFamily: FONT, color: '#000', padding: [0, 0, 0, 15]}
  },
  graphic: graphics
});
</script></body></html>
